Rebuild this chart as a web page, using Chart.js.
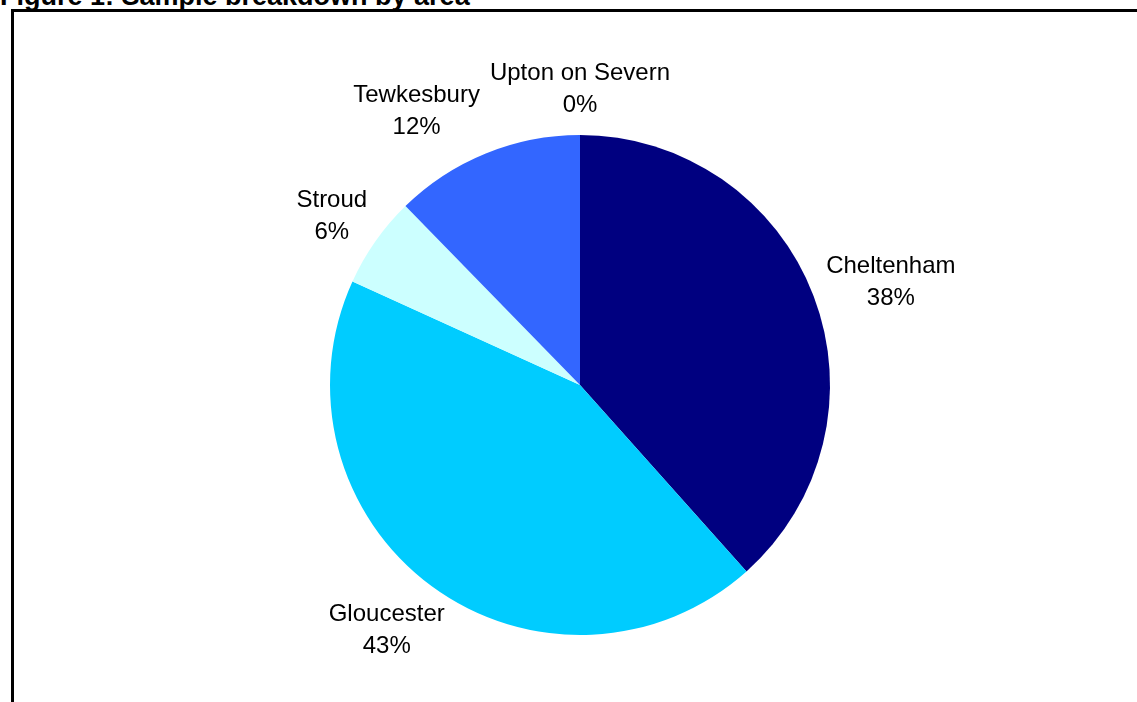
<!DOCTYPE html>
<html>
<head>
<meta charset="utf-8">
<script src="https://cdn.jsdelivr.net/npm/chart.js@4"></script>
<style>
  html, body { margin: 0; padding: 0; background: #fff; overflow: hidden; }
  body { width: 1137px; height: 702px; position: relative; font-family: "Liberation Sans", Arial, sans-serif; }
  #title { position: absolute; left: 0; top: -17px; font-weight: bold; font-size: 27px; line-height: 27px; white-space: nowrap; }
  #frame { position: absolute; left: 11px; top: 9px; width: 1200px; height: 800px;
           border-top: 3px solid #000; border-left: 3px solid #000; }
  #wrap { position: absolute; left: 0; top: 0; width: 1137px; height: 702px; }
</style>
</head>
<body>
<div id="title">Figure 1: Sample breakdown by area</div>
<div id="frame"></div>
<div id="wrap"><canvas id="pieChart"></canvas></div>
<script>
const areas = ["Cheltenham", "Gloucester", "Stroud", "Tewkesbury", "Upton on Severn"];
const shares = [38.4, 43.4, 5.9, 12.3, 0];
const sliceColors = ["#000080", "#00CCFF", "#CCFFFF", "#3366FF", "#993366"];

// Excel-style outside labels: name on one line, percentage below
const outsideLabels = {
  id: "outsideLabels",
  afterDatasetsDraw(chart) {
    const ctx = chart.ctx;
    const meta = chart.getDatasetMeta(0);
    const total = shares.reduce((a, b) => a + b, 0);
    const lineH = 32;
    ctx.save();
    ctx.font = "24px 'Liberation Sans', Arial, sans-serif";
    ctx.fillStyle = "#000";
    ctx.textAlign = "center";
    ctx.textBaseline = "middle";

    const placed = [];
    for (let i = meta.data.length - 1; i >= 0; i--) {
      const arc = meta.data[i];
      const mid = (arc.startAngle + arc.endAngle) / 2;
      const cos = Math.cos(mid), sin = Math.sin(mid);
      const r = arc.outerRadius + 18;
      const pct = Math.round(shares[i] / total * 100) + "%";
      const w = Math.max(ctx.measureText(areas[i]).width, ctx.measureText(pct).width);
      let cx = arc.x + cos * r + cos * w / 2;
      let cy = arc.y + sin * r + sin * lineH + 4;
      // push away from labels already placed
      placed.forEach(b => {
        const overlapX = Math.abs(cx - b.cx) < (w + b.w) / 2 + 10;
        const overlapY = Math.abs(cy - b.cy) < lineH * 2;
        if (overlapX && overlapY) {
          if (cx < b.cx) cx = b.cx - (w + b.w) / 2 - 10;
          else cx = b.cx + (w + b.w) / 2 + 10;
        }
      });
      placed.push({ cx, cy, w });
      ctx.fillText(areas[i], cx, cy - lineH / 2);
      ctx.fillText(pct, cx, cy + lineH / 2);
    }
    ctx.restore();
  }
};

new Chart(document.getElementById("pieChart"), {
  type: "pie",
  data: {
    labels: areas,
    datasets: [{
      data: shares,
      backgroundColor: sliceColors,
      borderWidth: 0
    }]
  },
  options: {
    responsive: true,
    maintainAspectRatio: false,
    animation: false,
    layout: { padding: { top: 135, bottom: 67, left: 330, right: 307 } },
    plugins: {
      legend: { display: false },
      tooltip: { enabled: false }
    }
  },
  plugins: [outsideLabels]
});
</script>
</body>
</html>
